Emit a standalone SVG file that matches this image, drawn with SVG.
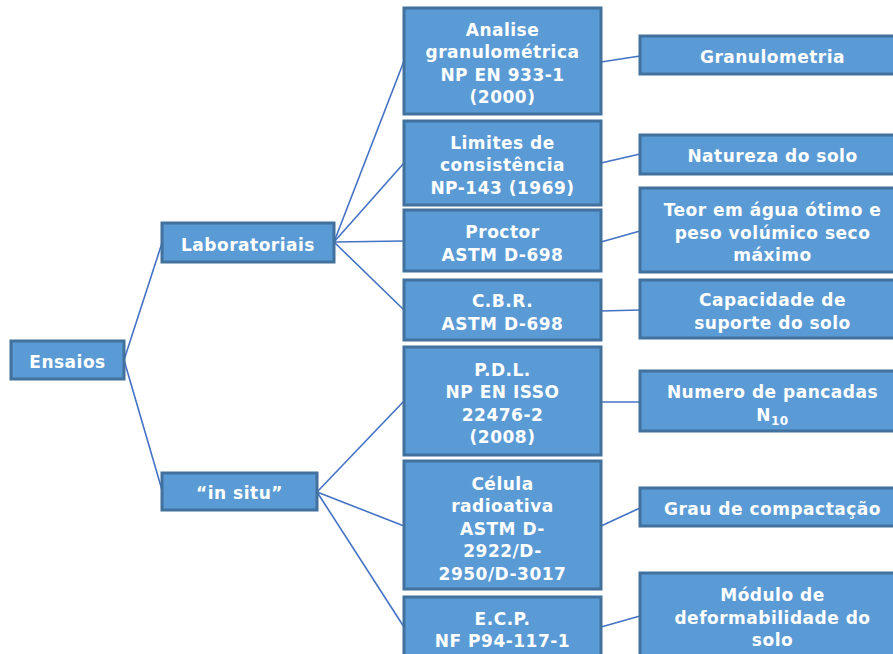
<svg xmlns="http://www.w3.org/2000/svg" width="893" height="654" viewBox="0 0 893 654">
<style>
.box{fill:#5B9BD5;stroke:#41719C;stroke-width:3}
.t{fill:#FFFFFF;font-family:"DejaVu Sans",Verdana,sans-serif;font-weight:bold;font-size:17px;letter-spacing:0.5px;text-anchor:middle}
.c{stroke:#4472C4;stroke-width:1.6;fill:none}
</style>
<rect width="893" height="654" fill="#FFFFFF"/>
<g id="connectors">
<line class="c" x1="124" y1="360" x2="162" y2="243"/>
<line class="c" x1="124" y1="360" x2="162" y2="490"/>
<line class="c" x1="334" y1="242" x2="404" y2="61"/>
<line class="c" x1="334" y1="242" x2="404" y2="163"/>
<line class="c" x1="334" y1="242" x2="404" y2="241"/>
<line class="c" x1="334" y1="242" x2="404" y2="310"/>
<line class="c" x1="317" y1="492" x2="404" y2="401"/>
<line class="c" x1="317" y1="492" x2="404" y2="526"/>
<line class="c" x1="317" y1="492" x2="404" y2="627"/>
<line class="c" x1="601" y1="62" x2="640" y2="56"/>
<line class="c" x1="601" y1="163" x2="640" y2="154"/>
<line class="c" x1="601" y1="242" x2="640" y2="231"/>
<line class="c" x1="601" y1="311" x2="640" y2="310"/>
<line class="c" x1="601" y1="402" x2="640" y2="402"/>
<line class="c" x1="601" y1="526" x2="640" y2="508"/>
<line class="c" x1="601" y1="627" x2="640" y2="616"/>
</g>
<g id="ensaios"><rect class="box" x="11" y="341" width="113" height="38"/><text class="t" x="67.5" y="367.5">Ensaios</text></g>
<g id="laboratoriais"><rect class="box" x="162" y="223" width="172" height="39"/><text class="t" x="248" y="250.5">Laboratoriais</text></g>
<g id="insitu"><rect class="box" x="162" y="473" width="155" height="37"/><text class="t" x="239.5" y="498.5">“in situ”</text></g>
<g id="analise"><rect class="box" x="404" y="8" width="197" height="106"/><text class="t" x="502.5" y="35.5">Analise<tspan x="502.5" dy="22.5">granulométrica</tspan><tspan x="502.5" dy="22.5">NP EN 933-1</tspan><tspan x="502.5" dy="22.5">(2000)</tspan></text></g>
<g id="limites"><rect class="box" x="404" y="121" width="197" height="84"/><text class="t" x="502.5" y="148.5">Limites de<tspan x="502.5" dy="22.5">consistência</tspan><tspan x="502.5" dy="22.5">NP-143 (1969)</tspan></text></g>
<g id="proctor"><rect class="box" x="404" y="210" width="197" height="61"/><text class="t" x="502.5" y="238">Proctor<tspan x="502.5" dy="22.5">ASTM D-698</tspan></text></g>
<g id="cbr"><rect class="box" x="404" y="280" width="197" height="60"/><text class="t" x="502.5" y="307">C.B.R.<tspan x="502.5" dy="22.5">ASTM D-698</tspan></text></g>
<g id="pdl"><rect class="box" x="404" y="347" width="197" height="108"/><text class="t" x="502.5" y="375.5">P.D.L.<tspan x="502.5" dy="22.5">NP EN ISSO</tspan><tspan x="502.5" dy="22.5">22476-2</tspan><tspan x="502.5" dy="22.5">(2008)</tspan></text></g>
<g id="celula"><rect class="box" x="404" y="461" width="197" height="128"/><text class="t" x="502.5" y="489.5">Célula<tspan x="502.5" dy="22.5">radioativa</tspan><tspan x="502.5" dy="22.5">ASTM D-</tspan><tspan x="502.5" dy="22.5">2922/D-</tspan><tspan x="502.5" dy="22.5">2950/D-3017</tspan></text></g>
<g id="ecp"><rect class="box" x="404" y="597" width="197" height="62"/><text class="t" x="502.5" y="624.5">E.C.P.<tspan x="502.5" dy="22.5">NF P94-117-1</tspan></text></g>
<g id="granulometria"><rect class="box" x="640" y="36" width="265" height="38"/><text class="t" x="772.5" y="63">Granulometria</text></g>
<g id="natureza"><rect class="box" x="640" y="135" width="265" height="39"/><text class="t" x="772.5" y="162">Natureza do solo</text></g>
<g id="teor"><rect class="box" x="640" y="188" width="265" height="84"/><text class="t" x="772.5" y="216">Teor em água ótimo e<tspan x="772.5" dy="22.5">peso volúmico seco</tspan><tspan x="772.5" dy="22.5">máximo</tspan></text></g>
<g id="capacidade"><rect class="box" x="640" y="280" width="265" height="58"/><text class="t" x="772.5" y="306">Capacidade de<tspan x="772.5" dy="22.5">suporte do solo</tspan></text></g>
<g id="numero"><rect class="box" x="640" y="371" width="265" height="60"/><text class="t" x="772.5" y="398">Numero de pancadas<tspan x="772.5" dy="22.5">N</tspan><tspan font-size="12" dy="4">10</tspan></text></g>
<g id="grau"><rect class="box" x="640" y="488" width="265" height="38"/><text class="t" x="772.5" y="515">Grau de compactação</text></g>
<g id="modulo"><rect class="box" x="640" y="573" width="265" height="88"/><text class="t" x="772.5" y="601">Módulo de<tspan x="772.5" dy="22.5">deformabilidade do</tspan><tspan x="772.5" dy="22.5">solo</tspan></text></g>
</svg>
